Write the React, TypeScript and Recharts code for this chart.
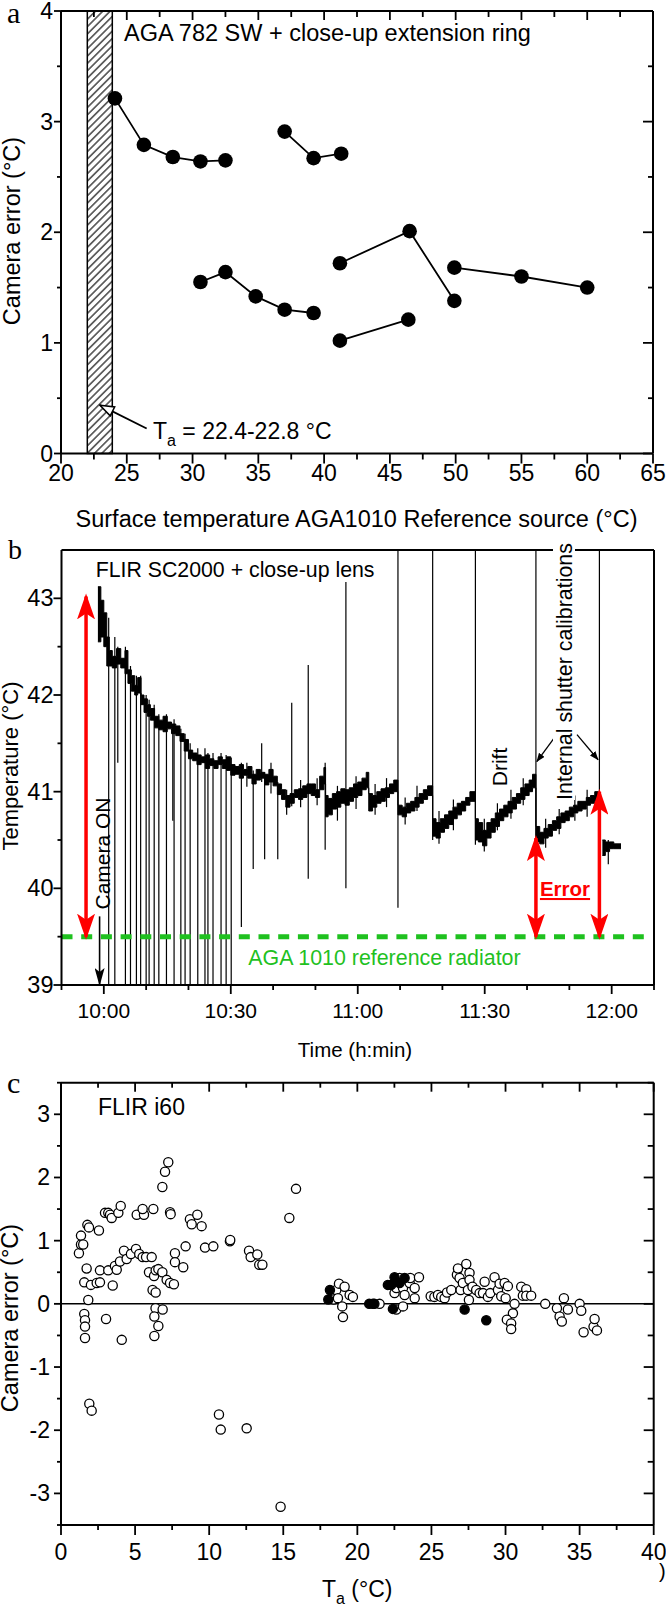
import React from "react";
import {
  ScatterChart,
  Scatter,
  ComposedChart,
  Area,
  XAxis,
  YAxis,
  ReferenceLine,
  ReferenceArea,
} from "recharts";

const SANS = "'Liberation Sans', Arial, Helvetica, sans-serif";
const SERIF = "'Liberation Serif', 'Times New Roman', serif";
const GREEN = "#1fc11f";
const RED = "#ff0000";

// ---------- panel a : AGA 782 SW ----------
const aXTicks = [20, 22.5, 25, 27.5, 30, 32.5, 35, 37.5, 40, 42.5, 45, 47.5, 50, 52.5, 55, 57.5, 60, 62.5, 65];
const aXMajor = [20, 25, 30, 35, 40, 45, 50, 55, 60, 65];
const aYTicks = [0, 0.5, 1, 1.5, 2, 2.5, 3, 3.5, 4];
const aYMajor = [0, 1, 2, 3, 4];

const aRun1X = [24.1, 26.3, 28.5, 30.6, 32.5];
const aRun1Y = [3.21, 2.79, 2.68, 2.64, 2.65];
const aRun2X = [37.0, 39.2, 41.3];
const aRun2Y = [2.91, 2.67, 2.71];
const aRun3X = [30.6, 32.5, 34.8, 37.0, 39.2];
const aRun3Y = [1.55, 1.64, 1.42, 1.3, 1.27];
const aRun4X = [41.2, 46.5, 49.9];
const aRun4Y = [1.72, 2.01, 1.38];
const aRun5X = [49.9, 55.0, 60.0];
const aRun5Y = [1.68, 1.6, 1.5];
const aRun6X = [41.2, 46.4];
const aRun6Y = [1.02, 1.21];

// ambient band (hatched)
const aAmbient = [22.0, 23.9];

// ---------- panel b : FLIR SC2000 ----------
const bXTicks = [590, 600, 610, 620, 630, 640, 650, 660, 670, 680, 690, 700, 710, 720, 730];
const bXMajor = [600, 630, 660, 690, 720];
const bXLabels = ["10:00", "10:30", "11:00", "11:30", "12:00"];
const bYTicks = [39, 39.5, 40, 40.5, 41, 41.5, 42, 42.5, 43];
const bYMajor = [39, 40, 41, 42, 43];

// time in minutes since midnight, band low / high in °C
const bandT = [
  598.6, 599.3, 600, 600.7, 601.3, 602, 603, 604, 605, 605.7, 606.5, 607.3, 608, 608.8, 609.5, 610.3,
  611, 612, 613, 614, 615, 616, 617, 618, 619, 620, 621, 622, 623, 624, 625, 626, 627, 628, 629, 630,
  631, 632, 633, 634, 635, 636, 637, 638, 639, 640, 641, 642, 643, 644, 645, 646, 647, 648, 649, 650,
  651, 652, 652.4, 653, 654, 655, 656, 657, 658, 659, 660, 661, 662, 662.6, 663.5, 664.5, 665.5, 666.5,
  667.5, 668.5, 669.5, 670.5, 671.5, 672.5, 673.5, 674.5, 675.5, 676.5, 677.7, 678.5, 679.5, 680.5,
  681.5, 682.5, 683.5, 684.5, 685.5, 686.5, 687.8, 688.5, 689.5, 690.5, 691.5, 692.5, 693.5, 694.5,
  695.5, 696.5, 697.5, 698.5, 699.5, 700.5, 701.3, 702.1, 703, 704, 705, 706, 707, 708, 709, 710, 711,
  712, 713, 714, 715, 716, 716.9, 717.1, 717.8, 718.5, 719.5, 720.5, 721.5, 722.2,
];
const bandLo = [
  42.55, 42.6, 42.5, 42.3, 42.3, 42.28, 42.32, 42.28, 42.22, 42.12, 42.04, 42.0, 42.02, 41.9, 41.82, 41.78,
  41.74, 41.66, 41.64, 41.62, 41.65, 41.6, 41.58, 41.52, 41.42, 41.34, 41.32, 41.28, 41.3, 41.24, 41.27, 41.24, 41.28, 41.24, 41.22, 41.17,
  41.18, 41.14, 41.17, 41.14, 41.08, 41.12, 41.14, 41.07, 41.1, 41.06, 40.97, 40.92, 40.84, 40.88, 40.94, 40.92, 40.94, 40.98, 40.96, 40.94,
  41.02, 41.08, 40.74, 40.76, 40.82, 40.84, 40.88, 40.86, 40.9, 40.94, 40.96, 41.02, 41.04, 40.8, 40.84, 40.88, 40.9, 40.94,
  40.98, 41.0, 40.76, 40.74, 40.78, 40.8, 40.84, 40.88, 40.92, 40.96, 40.54, 40.52, 40.58, 40.62,
  40.66, 40.72, 40.76, 40.8, 40.86, 40.9, 40.5, 40.48, 40.44, 40.52, 40.58, 40.64, 40.7, 40.74,
  40.78, 40.82, 40.88, 40.92, 40.96, 41.0, 41.04, 40.48, 40.46, 40.52, 40.54, 40.6, 40.62, 40.68, 40.7, 40.74, 40.78,
  40.8, 40.82, 40.86, 40.88, 40.9, 40.9, null, 40.34, 40.38, 40.41, 40.41, 40.41, 40.41,
];
const bandHi = [
  43.12, 42.98, 42.85, 42.6, 42.46, 42.4, 42.48, 42.38, 42.46, 42.26, 42.2, 42.1, 42.18, 42.0, 41.96, 41.9,
  41.86, 41.78, 41.74, 41.78, 41.72, 41.7, 41.68, 41.6, 41.54, 41.43, 41.4, 41.38, 41.36, 41.38, 41.34, 41.32, 41.36, 41.33, 41.36, 41.28,
  41.26, 41.28, 41.23, 41.26, 41.18, 41.23, 41.2, 41.18, 41.23, 41.16, 41.08, 41.02, 40.96, 40.98, 41.02, 41.03, 41.06, 41.08, 41.08, 41.02,
  41.16, 41.25, 40.96, 40.93, 40.98, 41.0, 41.03, 41.02, 41.04, 41.08, 41.1, 41.14, 41.2, 40.98, 40.96, 41.0, 41.03, 41.04,
  41.08, 41.12, 40.86, 40.84, 40.88, 40.9, 40.94, 40.98, 41.02, 41.06, 40.72, 40.68, 40.72, 40.76,
  40.8, 40.84, 40.88, 40.9, 40.94, 41.0, 40.72, 40.68, 40.6, 40.68, 40.72, 40.78, 40.82, 40.86,
  40.9, 40.94, 40.98, 41.04, 41.08, 41.12, 41.18, 40.64, 40.58, 40.62, 40.66, 40.7, 40.74, 40.78, 40.8, 40.84, 40.86,
  40.9, 40.9, 40.94, 40.96, 41.0, 41.0, null, 40.5, 40.48, 40.48, 40.46, 40.46, 40.46,
];

// spikes: time, bottom, top
const spikeT = [
  601.15, 602.6, 603.3, 605.1, 606.3, 607.7, 608.7, 610.0, 610.7, 611.9, 613.0, 614.8, 616.3, 616.6, 618.2,
  619.2, 620.4, 622.2, 623.9, 624.6, 625.8, 627.7, 628.9, 630.1, 632.5, 635.3, 637.3, 638.0, 641.1, 644.4,
  648.3, 652.3, 657.2, 669.5, 677.7, 687.8, 702.1, 717.1,
  633.8, 639.5, 643.2, 646.5, 650.4, 655.2, 659.6, 664.1, 666.8, 671.2, 674.0, 679.2, 682.6, 689.9, 693.0,
  696.2, 699.1, 704.4, 707.6, 711.3, 714.2, 719.2,
];
const spikeLo = [
  39, 39, 41.3, 39, 39, 39, 39, 39, 39, 39, 39, 39, 40.7, 39, 39,
  39, 39, 39, 39, 39, 39, 39, 39, 39, 39.6, 40.2, 41.1, 40.3, 40.3, 40.85,
  40.1, 40.4, 40.0, 39.8, 40.5, 40.45, 40.45, 40.4,
  41.05, 40.98, 40.76, 40.84, 40.86, 40.7, 40.82, 40.76, 40.84, 40.66, 40.8, 40.46, 40.6, 40.38, 40.6,
  40.72, 40.86, 40.42, 40.56, 40.7, 40.74, 40.25,
];
const spikeHi = [
  42.8, 42.6, 42.5, 42.5, 42.3, 42.2, 42.2, 42.0, 41.95, 41.9, 41.8, 41.8, 41.7, 41.75, 41.65,
  41.6, 41.5, 41.45, 41.45, 41.4, 41.4, 41.4, 41.38, 41.35, 41.3, 41.22, 41.5, 41.2, 41.1, 41.92,
  42.31, 41.3, 43.17, 43.5, 43.5, 43.5, 43.5, 43.5,
  41.3, 41.3, 41.02, 41.12, 41.14, 41.06, 41.16, 41.08, 41.14, 40.94, 41.06, 40.8, 40.92, 40.72, 40.88,
  41.02, 41.14, 40.72, 40.82, 40.96, 41.02, 40.5,
];

const bReference = 39.5;
const bRefEnd = 728.8;
const bCameraOn = 599.0;
// red error arrows: time, top
const bErrT = [595.8, 702.1, 717.1];
const bErrTop = [43.02, 40.52, 41.0];

// ---------- panel c : FLIR i60 ----------
const cXTicks = [0, 2.5, 5, 7.5, 10, 12.5, 15, 17.5, 20, 22.5, 25, 27.5, 30, 32.5, 35, 37.5, 40];
const cXMajor = [0, 5, 10, 15, 20, 25, 30, 35, 40];
const cYTicks = [-3.5, -3, -2.5, -2, -1.5, -1, -0.5, 0, 0.5, 1, 1.5, 2, 2.5, 3, 3.5];
const cYMajor = [-3, -2, -1, 0, 1, 2, 3];

const cOpenX = [
  1.21, 1.35, 1.35, 1.5, 1.78, 1.89, 2.56, 1.73, 1.57, 1.84, 2.02, 2.41, 2.63, 2.63, 2.97, 3.19, 3.31, 3.42,
  3.87, 4.03, 3.19, 3.49, 3.64, 3.76, 3.98, 4.25, 4.43, 4.72, 5.06, 5.28, 5.51, 5.74, 6.12, 5.11, 5.6, 5.51,
  6.23, 5.94, 6.28, 6.39, 6.57, 6.84, 7.13, 7.36, 7.62, 6.18, 6.39, 6.84, 7.02, 7.24, 7.36, 7.4, 7.69, 7.69,
  8.25, 8.41, 8.7, 8.82, 9.2, 9.49, 9.72, 10.28, 11.4, 11.42, 12.69, 12.8, 13.25, 13.38, 13.59, 15.41, 15.86,
  1.57, 1.62, 1.62, 3.04, 6.38, 6.86, 6.3, 6.57, 1.62, 4.1, 6.3, 1.91, 2.07, 10.66, 10.78, 12.53, 14.82,
  18.4, 18.58, 18.69, 18.76, 18.98, 19.03, 19.14, 19.48, 19.7, 21.5, 22.51, 22.63, 22.63, 22.85, 23.08,
  23.08, 23.19, 23.53, 23.57, 23.87, 23.87, 24.16, 24.95, 25.2, 25.44, 25.66, 25.89, 26.05, 26.34, 26.72,
  26.79, 26.9, 26.97, 27.12, 27.35, 27.46, 27.53, 27.57, 27.57, 27.77, 28.02, 28.25, 28.48, 28.59, 28.81,
  28.97, 29.26, 29.49, 29.6, 29.71, 29.94, 30.01, 30.16, 30.61, 30.5, 30.09, 30.38, 30.38, 31.06, 31.17,
  31.4, 31.4, 31.73, 32.68, 33.47, 33.65, 33.8, 33.94, 34.21, 35.0, 35.11, 35.27, 35.94, 36.01, 36.17,
];
const cOpenY = [
  0.8, 0.94, 1.08, 0.94, 1.25, 1.21, 1.16, 0.56, 0.34, 0.06, 0.3, 0.33, 0.34, 0.53, 1.44, 1.44, 1.41, 1.36,
  1.44, 1.55, 0.53, 0.29, 0.6, 0.54, 0.67, 0.84, 0.71, 0.79, 0.87, 0.79, 0.74, 0.74, 0.74, 1.41, 1.41, 1.5,
  1.5, 0.5, 0.44, 0.53, 0.55, 0.5, 0.38, 0.33, 0.31, 0.22, 0.18, 1.85, 2.09, 2.24, 1.45, 1.42, 0.8, 0.66,
  0.58, 0.91, 1.34, 1.26, 1.41, 1.23, 0.89, 0.91, 0.99, 1.01, 0.84, 0.74, 0.78, 0.62, 0.62, 1.36, 1.82,
  -0.16, -0.26, -0.36, -0.24, -0.07, -0.09, -0.2, -0.35, -0.54, -0.57, -0.51, -1.58, -1.69, -1.75, -1.99, -1.97, -3.21,
  0.07, 0.22, 0.09, 0.32, -0.04, -0.21, 0.27, 0.14, 0.11, 0.0, 0.17, 0.25, -0.09, 0.41, 0.25,
  -0.04, 0.14, 0.33, 0.41, 0.25, 0.09, 0.42, 0.12, 0.11, 0.14, 0.11, 0.09, 0.18, 0.22, 0.46,
  0.56, 0.41, 0.22, 0.33, 0.63, 0.22, 0.06, 0.49, 0.38, 0.27, 0.22, 0.17, 0.17, 0.35, 0.11,
  0.17, 0.42, 0.22, 0.32, 0.12, 0.33, 0.09, 0.28, 0.0, -0.15, -0.25, -0.31, -0.4, 0.27, 0.13,
  0.23, 0.13, 0.13, 0.0, -0.07, -0.2, -0.28, 0.09, -0.09, 0.0, -0.11, -0.45, -0.36, -0.24, -0.42,
];
const cFillX = [18.04, 18.15, 20.8, 21.05, 21.15, 22.06, 22.29, 22.4, 22.51, 22.85, 23.19, 27.24, 28.7];
const cFillY = [0.07, 0.22, 0.0, 0.0, 0.0, 0.3, 0.3, -0.08, 0.42, 0.33, 0.41, -0.09, -0.26];

// ---------- helpers ----------
const pts = (xs: number[], ys: number[]) => xs.map((x, i) => ({ x, y: ys[i] }));
const isMajor = (majors: number[], v: number) => majors.some((m) => Math.abs(m - v) < 1e-6);

type TickCfg = {
  majors: number[];
  label: (v: number) => string;
  len: [number, number];
  far?: number;
  farLen?: [number, number];
  size: number;
  gap: number;
  dy?: number;
};

function bottomTick(c: TickCfg) {
  return (p: any) => {
    const v = p.payload.value;
    const big = isMajor(c.majors, v);
    return (
      <g>
        <line x1={p.x} x2={p.x} y1={p.y} y2={p.y + (big ? c.len[0] : c.len[1])} stroke="#000" strokeWidth={1.8} />
        {c.far !== undefined && c.farLen && (
          <line x1={p.x} x2={p.x} y1={c.far} y2={c.far + (big ? c.farLen[0] : c.farLen[1])} stroke="#000" strokeWidth={1.8} />
        )}
        {big && (
          <text x={p.x} y={p.y + c.gap} textAnchor="middle" fontFamily={SANS} fontSize={c.size} fill="#000">
            {c.label(v)}
          </text>
        )}
      </g>
    );
  };
}

function leftTick(c: TickCfg) {
  return (p: any) => {
    const v = p.payload.value;
    const big = isMajor(c.majors, v);
    return (
      <g>
        <line x1={p.x - (big ? c.len[0] : c.len[1])} x2={p.x} y1={p.y} y2={p.y} stroke="#000" strokeWidth={1.8} />
        {c.far !== undefined && c.farLen && (
          <line x1={c.far - (big ? c.farLen[0] : c.farLen[1])} x2={c.far} y1={p.y} y2={p.y} stroke="#000" strokeWidth={1.8} />
        )}
        {big && (
          <text x={p.x - c.gap} y={p.y + (c.dy ?? 8)} textAnchor="end" fontFamily={SANS} fontSize={c.size} fill="#000">
            {c.label(v)}
          </text>
        )}
      </g>
    );
  };
}

const bigDot = (p: any) => <circle cx={p.cx} cy={p.cy} r={7.3} fill="#000" />;
const openDot = (p: any) => <circle cx={p.cx} cy={p.cy} r={4.6} fill="#fff" stroke="#000" strokeWidth={1.3} />;
const fullDot = (p: any) => <circle cx={p.cx} cy={p.cy} r={4.6} fill="#000" stroke="#000" strokeWidth={1.3} />;

const arrow = (color: string, w: number, start?: string, end?: string) => (p: any) => (
  <line
    x1={p.x1}
    y1={p.y1}
    x2={p.x2}
    y2={p.y2}
    stroke={color}
    strokeWidth={w}
    markerStart={start ? `url(#${start})` : undefined}
    markerEnd={end ? `url(#${end})` : undefined}
  />
);

const fmtTime = (v: number) => bXLabels[bXMajor.indexOf(v)] ?? "";

const axisLine = { stroke: "#000", strokeWidth: 2 };

const PanelA = () => {
  const runs = [
    pts(aRun1X, aRun1Y),
    pts(aRun2X, aRun2Y),
    pts(aRun3X, aRun3Y),
    pts(aRun4X, aRun4Y),
    pts(aRun5X, aRun5Y),
    pts(aRun6X, aRun6Y),
  ];
  return (
    <ScatterChart width={666} height={500} margin={{ top: 11, right: 13, left: 0, bottom: 0 }}>
      <XAxis
        type="number"
        dataKey="x"
        domain={[20, 65]}
        ticks={aXTicks}
        interval={0}
        allowDataOverflow
        height={46.5}
        tickSize={0}
        tickMargin={0}
        tickLine={false}
        axisLine={axisLine}
        tick={bottomTick({ majors: aXMajor, label: (v) => String(v), len: [10, 6], far: 11, farLen: [9, 6], size: 23, gap: 27.5 })}
      />
      <YAxis
        type="number"
        dataKey="y"
        domain={[0, 4]}
        ticks={aYTicks}
        interval={0}
        allowDataOverflow
        width={61}
        tickSize={0}
        tickMargin={0}
        tickLine={false}
        axisLine={axisLine}
        tick={leftTick({ majors: aYMajor, label: (v) => String(v), len: [7, 4], far: 653, farLen: [10, 5], size: 23, gap: 8 })}
      />
      <ReferenceArea x1={aAmbient[0]} x2={aAmbient[1]} y1={0} y2={4} fill="url(#hatch)" fillOpacity={1} stroke="#000" strokeWidth={1.5} />
      <ReferenceLine y={4} stroke="#000" strokeWidth={2} />
      <ReferenceLine x={65} stroke="#000" strokeWidth={2} />
      <ReferenceLine
        segment={[
          { x: 26.51, y: 0.226 },
          { x: 22.96, y: 0.437 },
        ]}
        shape={arrow("#000", 1.8, undefined, "openHead")}
      />
      {runs.map((d, i) => (
        <Scatter
          key={i}
          data={d}
          line={{ stroke: "#000", strokeWidth: 1.8 }}
          shape={bigDot}
          isAnimationActive={false}
        />
      ))}
    </ScatterChart>
  );
};

const PanelB = () => {
  const rows = bandT.map((t, i) => ({
    t,
    band: bandLo[i] === null ? null : [bandLo[i], bandHi[i]],
  }));
  return (
    <ComposedChart width={666} height={540} data={rows} margin={{ top: 50, right: 12, left: 0, bottom: 0 }}>
      <XAxis
        type="number"
        dataKey="t"
        domain={[590, 730]}
        ticks={bXTicks}
        interval={0}
        allowDataOverflow
        height={55}
        tickSize={0}
        tickMargin={0}
        tickLine={false}
        axisLine={axisLine}
        tick={bottomTick({ majors: bXMajor, label: fmtTime, len: [9, 5], size: 21, gap: 33 })}
      />
      <YAxis
        type="number"
        domain={[39, 43.5]}
        ticks={bYTicks}
        interval={0}
        allowDataOverflow
        width={61.5}
        tickSize={0}
        tickMargin={0}
        tickLine={false}
        axisLine={axisLine}
        tick={leftTick({ majors: bYMajor, label: (v) => String(v), len: [8, 4], size: 23.5, gap: 8, dy: 8 })}
      />
      <ReferenceLine y={43.5} stroke="#000" strokeWidth={2} />
      <ReferenceLine x={730} stroke="#000" strokeWidth={2} />
      {spikeT.map((t, i) => (
        <ReferenceLine
          key={"s" + i}
          segment={[
            { x: t, y: spikeLo[i] },
            { x: t, y: spikeHi[i] },
          ]}
          stroke="#000"
          strokeWidth={1.2}
        />
      ))}
      <Area
        type="stepAfter"
        dataKey="band"
        stroke="#000"
        strokeWidth={1}
        fill="#000"
        fillOpacity={1}
        dot={false}
        activeDot={false}
        isAnimationActive={false}
      />
      <ReferenceLine
        segment={[
          { x: 590, y: bReference },
          { x: bRefEnd, y: bReference },
        ]}
        stroke={GREEN}
        strokeWidth={5}
        strokeDasharray="11 8.7"
      />
      <ReferenceLine
        segment={[
          { x: bCameraOn, y: 39.71 },
          { x: bCameraOn, y: 39 },
        ]}
        shape={arrow("#000", 1.6, undefined, "blackHead")}
      />
      {bErrT.map((t, i) => (
        <ReferenceLine
          key={"e" + i}
          segment={[
            { x: t, y: bErrTop[i] },
            { x: t, y: bReference },
          ]}
          shape={arrow(RED, 3.5, "redHead", "redHead")}
        />
      ))}
      <ReferenceLine
        segment={[
          { x: 707.0, y: 41.59 },
          { x: 702.3, y: 41.31 },
        ]}
        shape={arrow("#000", 1.3, undefined, "smallHead")}
      />
      <ReferenceLine
        segment={[
          { x: 711.8, y: 41.59 },
          { x: 716.8, y: 41.33 },
        ]}
        shape={arrow("#000", 1.3, undefined, "smallHead")}
      />
    </ComposedChart>
  );
};

const PanelC = () => (
  <ScatterChart width={666} height={567} margin={{ top: 42.7, right: 12.3, left: 0, bottom: 0 }}>
    <XAxis
      type="number"
      dataKey="x"
      domain={[0, 40]}
      ticks={cXTicks}
      interval={0}
      allowDataOverflow
      height={82}
      tickSize={0}
      tickMargin={0}
      tickLine={false}
      axisLine={axisLine}
      tick={bottomTick({ majors: cXMajor, label: (v) => String(v), len: [10, 5], far: 42.7, farLen: [9, 5], size: 23, gap: 35 })}
    />
    <YAxis
      type="number"
      dataKey="y"
      domain={[-3.5, 3.5]}
      ticks={cYTicks}
      interval={0}
      allowDataOverflow
      width={61}
      tickSize={0}
      tickMargin={0}
      tickLine={false}
      axisLine={axisLine}
      tick={leftTick({ majors: cYMajor, label: (v) => String(v), len: [7, 4], far: 653.7, farLen: [10, 6], size: 23, gap: 11 })}
    />
    <ReferenceLine y={3.5} stroke="#000" strokeWidth={2} />
    <ReferenceLine x={40} stroke="#000" strokeWidth={2} />
    <ReferenceLine y={0} stroke="#000" strokeWidth={1.5} />
    <Scatter data={pts(cOpenX, cOpenY)} shape={openDot} isAnimationActive={false} />
    <Scatter data={pts(cFillX, cFillY)} shape={fullDot} isAnimationActive={false} />
  </ScatterChart>
);

const Defs = () => (
  <svg width={0} height={0} style={{ position: "absolute" }}>
    <defs>
      <pattern id="hatch" patternUnits="userSpaceOnUse" width={5.2} height={5.2} patternTransform="rotate(45)">
        <rect width={5.2} height={5.2} fill="#fff" />
        <line x1={2.6} y1={0} x2={2.6} y2={5.2} stroke="#000" strokeWidth={1.1} />
      </pattern>
      <marker id="redHead" markerUnits="userSpaceOnUse" viewBox="0 0 26 18" markerWidth={26} markerHeight={18} refX={23} refY={9} orient="auto-start-reverse">
        <path d="M0,0 L26,9 L0,18 L6,9 Z" fill={RED} />
      </marker>
      <marker id="blackHead" markerUnits="userSpaceOnUse" viewBox="0 0 18 10" markerWidth={18} markerHeight={10} refX={17} refY={5} orient="auto">
        <path d="M0,0 L18,5 L0,10 L4,5 Z" fill="#000" />
      </marker>
      <marker id="smallHead" markerUnits="userSpaceOnUse" viewBox="0 0 9 7" markerWidth={9} markerHeight={7} refX={8.5} refY={3.5} orient="auto">
        <path d="M0,0 L9,3.5 L0,7 Z" fill="#000" />
      </marker>
      <marker id="openHead" markerUnits="userSpaceOnUse" viewBox="0 0 16 12" markerWidth={16} markerHeight={12} refX={15} refY={6} orient="auto">
        <path d="M1,1 L15,6 L1,11 Z" fill="#fff" stroke="#000" strokeWidth={1.5} />
      </marker>
    </defs>
  </svg>
);

const Overlay = () => (
  <svg width={666} height={1607} style={{ position: "absolute", left: 0, top: 0, pointerEvents: "none" }}>
    <g fontFamily={SANS} fill="#000">
      {/* panel a */}
      <text x={7} y={23} fontFamily={SERIF} fontSize={30}>a</text>
      <text x={124} y={40.5} fontSize={23.5}>AGA 782 SW + close-up extension ring</text>
      <text x={153} y={438.5} fontSize={23}>
        T<tspan dy={7} fontSize={16}>a</tspan>
        <tspan dy={-7} fontSize={23}> = 22.4-22.8 °C</tspan>
      </text>
      <text x={356.5} y={527} fontSize={23.5} textAnchor="middle">Surface temperature AGA1010 Reference source (°C)</text>
      <text transform="translate(20,231) rotate(-90)" fontSize={23.5} textAnchor="middle">Camera error (°C)</text>

      {/* panel b */}
      <text x={8} y={559} fontFamily={SERIF} fontSize={28}>b</text>
      <text x={95.7} y={576.7} fontSize={21.3}>FLIR SC2000 + close-up lens</text>
      <rect x={553} y={541} width={22} height={259} fill="#fff" />
      <text transform="translate(571.5,671.5) rotate(-90)" fontSize={21.4} textAnchor="middle">Internal shutter calibrations</text>
      <text transform="translate(507,767) rotate(-90)" fontSize={21} textAnchor="middle">Drift</text>
      <text transform="translate(109.5,853.5) rotate(-90)" fontSize={21} textAnchor="middle">Camera ON</text>
      <text x={565} y={896} fontSize={20.5} fontWeight="bold" fill={RED} textAnchor="middle" textDecoration="underline">Error</text>
      <text x={248.3} y={965} fontSize={21.4} fill={GREEN}>AGA 1010 reference radiator</text>
      <text x={355} y={1057} fontSize={20.5} textAnchor="middle">Time (h:min)</text>
      <text transform="translate(18,766) rotate(-90)" fontSize={22} textAnchor="middle">Temperature (°C)</text>

      {/* panel c */}
      <text x={7} y={1093} fontFamily={SERIF} fontSize={30}>c</text>
      <text x={98} y={1115} fontSize={23}>FLIR i60</text>
      <text transform="translate(18,1318) rotate(-90)" fontSize={23.5} textAnchor="middle">Camera error (°C)</text>
      <text x={322} y={1597} fontSize={23}>
        T<tspan dy={7} fontSize={16}>a</tspan>
        <tspan dy={-7} fontSize={23}> (°C)</tspan>
      </text>
      <text x={659} y={1578} fontSize={20}>)</text>
    </g>
  </svg>
);

export default function App() {
  return (
    <div style={{ position: "absolute", left: 0, top: 0, width: 666, height: 1607, background: "#fff", overflow: "hidden" }}>
      <Defs />
      <div style={{ position: "absolute", left: 0, top: 0 }}>
        <PanelA />
      </div>
      <div style={{ position: "absolute", left: 0, top: 500 }}>
        <PanelB />
      </div>
      <div style={{ position: "absolute", left: 0, top: 1040 }}>
        <PanelC />
      </div>
      <Overlay />
    </div>
  );
}
